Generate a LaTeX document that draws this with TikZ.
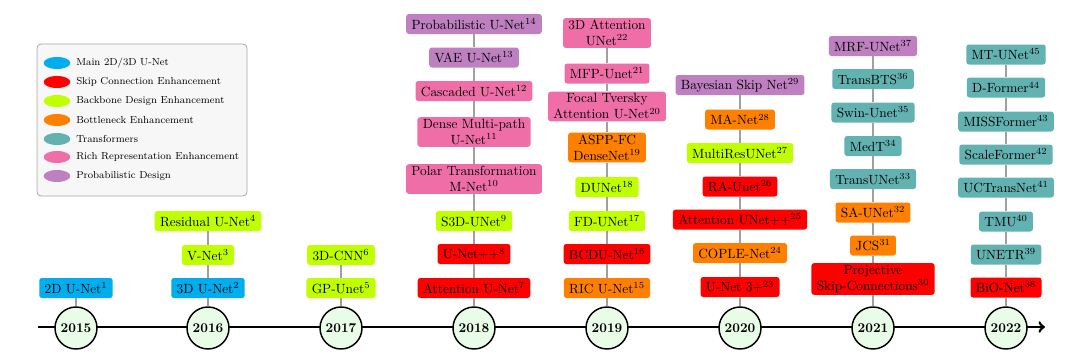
\documentclass[tikz,border=0pt]{standalone}
\usetikzlibrary{shapes.geometric}
\definecolor{mainblue}{RGB}{0,174,239}
\definecolor{skipred}{RGB}{255,0,0}
\definecolor{backbone}{RGB}{191,255,0}
\definecolor{bottle}{RGB}{255,128,0}
\definecolor{transf}{RGB}{99,178,178}
\definecolor{rich}{RGB}{240,110,168}
\definecolor{prob}{RGB}{190,128,192}
\definecolor{yearfill}{RGB}{232,252,232}
\definecolor{conngray}{RGB}{160,160,160}
\tikzset{
  mbox/.style={rounded corners=2pt, inner xsep=4pt, inner ysep=2pt, minimum height=15pt, align=center, font=\normalsize},
  tbox/.style={mbox, inner ysep=1.5pt},
  mainb/.style={mbox, fill=mainblue},
  skipb/.style={mbox, fill=skipred},
  backb/.style={mbox, fill=backbone},
  bottb/.style={mbox, fill=bottle},
  tranb/.style={mbox, fill=transf},
  richb/.style={mbox, fill=rich},
  probb/.style={mbox, fill=prob},
  yearnode/.style={circle, draw=black, line width=1.1pt, fill=yearfill, minimum size=31.5pt, inner sep=0pt, font=\bfseries},
  conn/.style={draw=conngray, line width=2.2pt},
  legdot/.style={ellipse, minimum width=20pt, minimum height=9pt, inner sep=0pt},
  legtext/.style={anchor=west, inner sep=0pt, font=\fontsize{7.6}{9}\selectfont},
}
\begin{document}
\begin{tikzpicture}[x=0.75pt, y=-0.75pt]
\useasboundingbox (0,0) rectangle (1080,357);
% legend
\node[draw=gray!70, fill=gray!6, rounded corners=3pt, line width=0.6pt, minimum width=157.5pt, minimum height=114pt, inner sep=0pt] (legend) at (142,120) {};
\node[legdot, fill=mainblue] (l1) at (57,63) {};
\node[legdot, fill=skipred] (l2) at (57,82) {};
\node[legdot, fill=backbone] (l3) at (57,101) {};
\node[legdot, fill=bottle] (l4) at (57,120) {};
\node[legdot, fill=transf] (l5) at (57,139) {};
\node[legdot, fill=rich] (l6) at (57,157) {};
\node[legdot, fill=prob] (l7) at (57,176) {};
\node[legtext] (t1) at (76,63) {Main 2D/3D U-Net};
\node[legtext] (t2) at (76,82) {Skip Connection Enhancement};
\node[legtext] (t3) at (76,101) {Backbone Design Enhancement};
\node[legtext] (t4) at (76,120) {Bottleneck Enhancement};
\node[legtext] (t5) at (76,139) {Transformers};
\node[legtext] (t6) at (76,157) {Rich Representation Enhancement};
\node[legtext] (t7) at (76,176) {Probabilistic Design};
% timeline
\coordinate (tlstart) at (38,327);
\coordinate (tlend) at (1045,327);
\draw[line width=2pt, ->] (tlstart) -- (tlend);
\node[yearnode] (y15) at (76,328) {2015};
\node[yearnode] (y16) at (208,328) {2016};
\node[yearnode] (y17) at (341,328) {2017};
\node[yearnode] (y18) at (474,328) {2018};
\node[yearnode] (y19) at (607,328) {2019};
\node[yearnode] (y20) at (740,328) {2020};
\node[yearnode] (y21) at (873,328) {2021};
\node[yearnode] (y22) at (1006,328) {2022};
% 2015
\node[mainb] (a1) at (76,288) {2D U-Net$^{1}$};
% 2016
\node[mainb] (b1) at (208,288) {3D U-Net$^{2}$};
\node[backb] (b2) at (208,255) {V-Net$^{3}$};
\node[backb] (b3) at (208,221) {Residual U-Net$^{4}$};
% 2017
\node[backb] (c1) at (341,288) {GP-Unet$^{5}$};
\node[backb] (c2) at (341,255) {3D-CNN$^{6}$};
% 2018
\node[skipb] (d1) at (474,288) {Attention U-Net$^{7}$};
\node[skipb] (d2) at (474,254) {U-Net++$^{8}$};
\node[backb] (d3) at (474,221) {S3D-UNet$^{9}$};
\node[richb, tbox] (d4) at (474,179) {Polar Transformation\\M-Net$^{10}$};
\node[richb, tbox] (d5) at (474,132) {Dense Multi-path\\U-Net$^{11}$};
\node[richb] (d6) at (474,91) {Cascaded U-Net$^{12}$};
\node[probb] (d7) at (474,57.5) {VAE U-Net$^{13}$};
\node[probb] (d8) at (474,24) {Probabilistic U-Net$^{14}$};
% 2019
\node[bottb] (e1) at (607,288) {RIC U-Net$^{15}$};
\node[skipb] (e2) at (607,254) {BCDU-Net$^{16}$};
\node[backb] (e3) at (607,221) {FD-UNet$^{17}$};
\node[backb] (e4) at (607,187) {DUNet$^{18}$};
\node[bottb, tbox] (e5) at (607,147.5) {ASPP-FC\\DenseNet$^{19}$};
\node[richb, tbox] (e6) at (607,106.5) {Focal Tversky\\Attention U-Net$^{20}$};
\node[richb] (e7) at (607,73.5) {MFP-Unet$^{21}$};
\node[richb, tbox] (e8) at (607,33) {3D Attention\\UNet$^{22}$};
% 2020
\node[skipb] (f1) at (740,287) {U-Net 3+$^{23}$};
\node[bottb] (f2) at (740,253) {COPLE-Net$^{24}$};
\node[skipb] (f3) at (740,219.5) {Attention UNet++$^{25}$};
\node[skipb] (f4) at (740,186.5) {RA-Unet$^{26}$};
\node[backb] (f5) at (740,153) {MultiResUNet$^{27}$};
\node[bottb] (f6) at (740,119.5) {MA-Net$^{28}$};
\node[probb] (f7) at (740,85) {Bayesian Skip Net$^{29}$};
% 2021
\node[skipb, tbox] (g1) at (873,279) {Projective\\Skip-Connections$^{30}$};
\node[bottb] (g2) at (873,245.5) {JCS$^{31}$};
\node[bottb] (g3) at (873,212.5) {SA-UNet$^{32}$};
\node[tranb] (g4) at (873,179) {TransUNet$^{33}$};
\node[tranb] (g5) at (873,146) {MedT$^{34}$};
\node[tranb] (g6) at (873,112.5) {Swin-Unet$^{35}$};
\node[tranb] (g7) at (873,79) {TransBTS$^{36}$};
\node[probb] (g8) at (873,46) {MRF-UNet$^{37}$};
% 2022
\node[skipb] (h1) at (1006,287.5) {BiO-Net$^{38}$};
\node[tranb] (h2) at (1006,254.5) {UNETR$^{39}$};
\node[tranb] (h3) at (1006,221.5) {TMU$^{40}$};
\node[tranb] (h4) at (1006,187.5) {UCTransNet$^{41}$};
\node[tranb] (h5) at (1006,154.5) {ScaleFormer$^{42}$};
\node[tranb] (h6) at (1006,121.5) {MISSFormer$^{43}$};
\node[tranb] (h7) at (1006,87.5) {D-Former$^{44}$};
\node[tranb] (h8) at (1006,54.5) {MT-UNet$^{45}$};
% connectors
\foreach \p/\q in {y15/a1, y16/b1, b1/b2, b2/b3, y17/c1, c1/c2,
  y18/d1, d1/d2, d2/d3, d3/d4, d4/d5, d5/d6, d6/d7, d7/d8,
  y19/e1, e1/e2, e2/e3, e3/e4, e4/e5, e5/e6, e6/e7, e7/e8,
  y20/f1, f1/f2, f2/f3, f3/f4, f4/f5, f5/f6, f6/f7,
  y21/g1, g1/g2, g2/g3, g3/g4, g4/g5, g5/g6, g6/g7, g7/g8,
  y22/h1, h1/h2, h2/h3, h3/h4, h4/h5, h5/h6, h6/h7, h7/h8}
  {\draw[conn] (\p) -- (\q);}
\end{tikzpicture}
\end{document}
